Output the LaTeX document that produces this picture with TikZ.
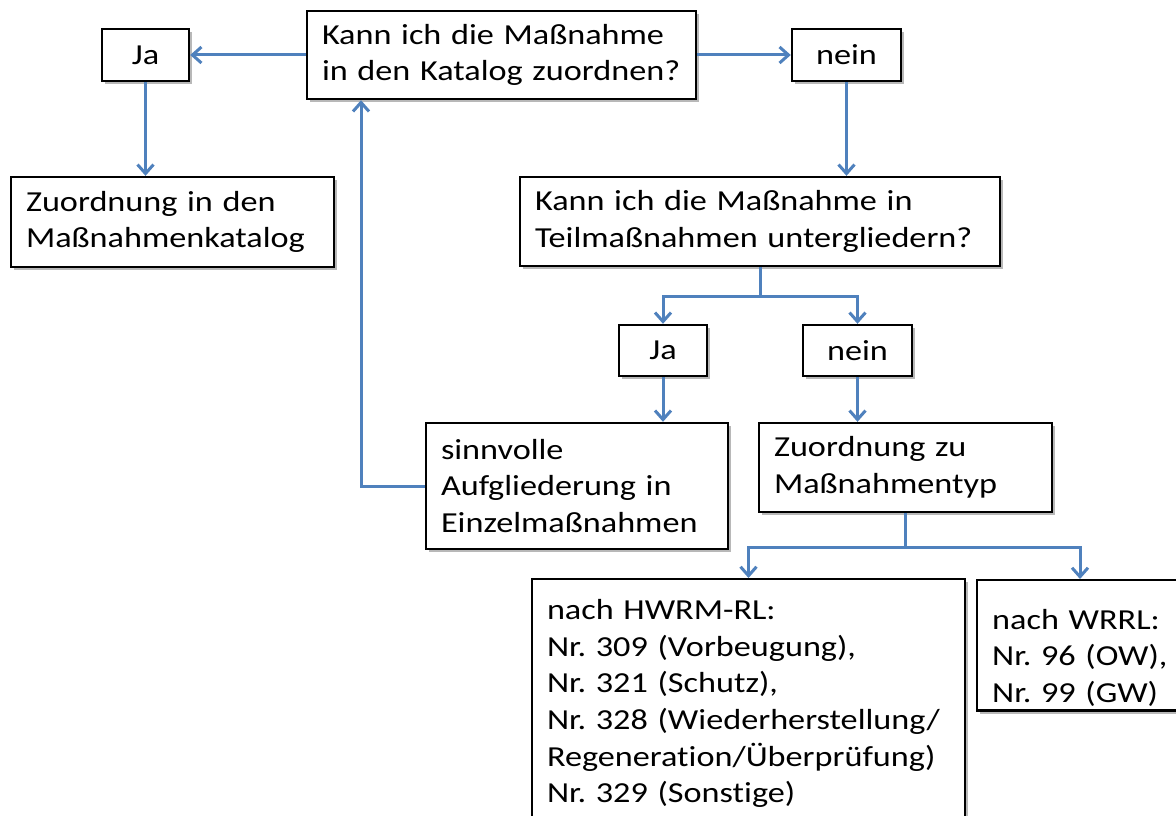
\documentclass[tikz,border=0pt]{standalone}
\usepackage{fontspec}
\setmainfont{Carlito}[FakeStretch=1.18, Ligatures=CommonOff]
\usetikzlibrary{arrows.meta,shadows}
\definecolor{arrowblue}{HTML}{4F81BD}
\frenchspacing
\tikzset{
  boxbase/.style={draw=black, line width=2.4pt, fill=white,
    drop shadow={shadow xshift=3pt, shadow yshift=-3pt, opacity=0.28, fill=black},
    inner xsep=15pt, inner ysep=4pt, font=\fontsize{29}{36.7}\selectfont\frenchspacing},
  tb/.style={boxbase, align=left},
  sb/.style={boxbase, align=center},
  arr/.style={draw=arrowblue, line width=3pt,
    -{Straight Barb[length=9pt,width=16pt,line width=3pt]}}
}
\begin{document}
\begin{tikzpicture}[x=1pt,y=-1pt]
\useasboundingbox (0,0) rectangle (1176,816);
\clip (0,0) rectangle (1176,816);
\fill[white] (0,0) rectangle (1176,816);

\node[tb, text width=359pt, minimum height=88pt] (q1) at (501.5,55) {Kann ich die Maßnahme\\in den Katalog zuordnen?};
\node[sb, minimum width=87pt, minimum height=52pt] (ja1) at (145.5,55) {Ja};
\node[sb, minimum width=109pt, minimum height=52pt] (nein1) at (846.5,55) {nein};
\node[tb, text width=293pt, minimum height=90pt] (kat) at (172.5,222) {Zuordnung in den\\Maßnahmenkatalog};
\node[tb, text width=450pt, minimum height=89pt] (q2) at (760,221.5) {Kann ich die Maßnahme in\\Teilmaßnahmen untergliedern?};
\node[sb, minimum width=88pt, minimum height=51pt] (ja2) at (663,350.5) {Ja};
\node[sb, minimum width=109pt, minimum height=51pt] (nein2) at (857.5,350.5) {nein};
\node[tb, text width=272pt, minimum height=126pt] (sinn) at (577,486) {sinnvolle\\Aufgliederung in\\Einzelmaßnahmen};
\node[tb, text width=263pt, minimum height=89pt] (typ) at (905.5,467.5) {Zuordnung zu\\Maßnahmentyp};
\node[tb, text width=403pt, inner ysep=20pt, anchor=north] (hwrm) at (748.5,578) {nach HWRM-RL:\\Nr. 309 (Vorbeugung),\\Nr. 321 (Schutz),\\Nr. 328 (Wiederherstellung/\\Regeneration/Überprüfung)\\Nr. 329 (Sonstige)};
\node[tb, text width=200pt, minimum height=125pt, anchor=north west] (wrrl) at (976,579) {\rule{0pt}{45pt}nach WRRL:\\Nr. 96 (OW),\\Nr. 99 (GW)};

\coordinate (ret) at (361,486);
\coordinate (wtop) at ([xshift=104pt]wrrl.north west);

\draw[arr] (q1.west) -- (ja1.east);
\draw[arr] (q1.east) -- (nein1.west);
\draw[arr] (ja1.south) -- (ja1.south |- kat.north);
\draw[arr] (nein1.south) -- (nein1.south |- q2.north);
\draw[arr] (q2.south) -- ++(0,29) -| (ja2.north);
\draw[arr] (q2.south) -- ++(0,29) -| (nein2.north);
\draw[arr] (ja2.south) -- (ja2.south |- sinn.north);
\draw[arr] (nein2.south) -- (nein2.south |- typ.north);
\draw[arr] (sinn.west) -- (ret) -- (ret |- q1.south);
\draw[arr] (typ.south) -- ++(0,34) -| (hwrm.north);
\draw[arr] (typ.south) -- ++(0,34) -| (wtop);
\end{tikzpicture}
\end{document}
